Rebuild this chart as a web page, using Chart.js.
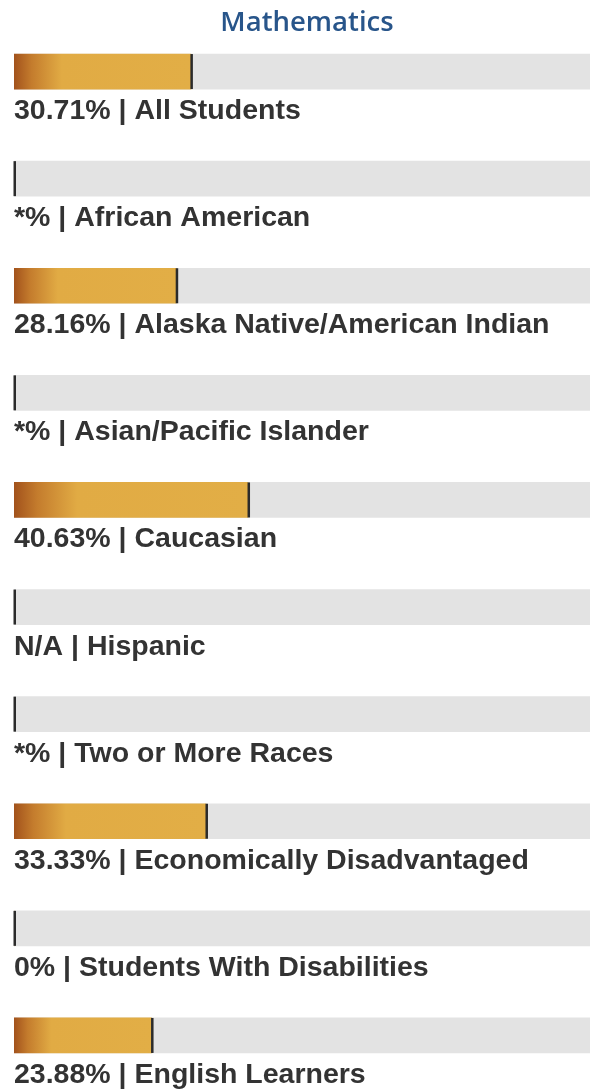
<!DOCTYPE html>
<html>
<head>
<meta charset="utf-8">
<script src="https://cdn.jsdelivr.net/npm/chart.js@4"></script>
<style>
  html, body { margin: 0; padding: 0; background: #fff; }
  #wrap { width: 594px; height: 1092px; position: relative; }
</style>
</head>
<body>
<div id="wrap"><canvas id="mathChart"></canvas></div>
<script>
// data
const chartTitle = 'Mathematics';
const categories = ['All Students', 'African American', 'Alaska Native/American Indian', 'Asian/Pacific Islander',
  'Caucasian', 'Hispanic', 'Two or More Races', 'Economically Disadvantaged', 'Students With Disabilities', 'English Learners'];
const values = [30.71, null, 28.16, null, 40.63, null, null, 33.33, 0, 23.88];
const valueText = ['30.71%', '*%', '28.16%', '*%', '40.63%', 'N/A', '*%', '33.33%', '0%', '23.88%'];
const trackValues = [100, 100, 100, 100, 100, 100, 100, 100, 100, 100];

// gold bar fill, dark at the left edge
function barGradient(context) {
  const chart = context.chart;
  const area = chart.chartArea;
  if (!area) return '#e2ae46';
  const x = chart.scales.x;
  const start = x.getPixelForValue(0);
  const end = x.getPixelForValue(context.raw || 0);
  if (end - start < 1) return '#e2ae46';
  const g = chart.ctx.createLinearGradient(start, 0, end, 0);
  g.addColorStop(0, '#a2521c');
  g.addColorStop(0.1, '#c47c2d');
  g.addColorStop(0.27, '#e1ab44');
  g.addColorStop(1, '#e2ae46');
  return g;
}

// title, end markers and the labels under each bar
const labelPlugin = {
  id: 'labelPlugin',
  afterDatasetsDraw(chart) {
    const ctx = chart.ctx;
    const x = chart.scales.x;
    const meta = chart.getDatasetMeta(0);
    ctx.save();
    meta.data.forEach((bar, i) => {
      const half = bar.height / 2;
      const top = bar.y - half;
      const bottom = bar.y + half;
      const end = x.getPixelForValue(values[i] || 0);
      ctx.fillStyle = '#2b2b2b';
      ctx.fillRect(end - 0.5, top, 2.5, bottom - top);

      ctx.fillStyle = '#333333';
      ctx.font = 'bold 28.5px "Liberation Sans", Arial, sans-serif';
      ctx.textAlign = 'left';
      ctx.textBaseline = 'alphabetic';
      ctx.fillText(valueText[i] + ' | ' + categories[i], x.left, bottom + 30);
    });

    ctx.fillStyle = '#28558a';
    ctx.font = '600 27.5px "Open Sans", "Noto Sans", sans-serif';
    ctx.textAlign = 'center';
    ctx.fillText(chartTitle, 307, 31);
    ctx.restore();
  }
};

const ctx = document.getElementById('mathChart').getContext('2d');
const chart = new Chart(ctx, {
  type: 'bar',
  data: {
    labels: categories,
    datasets: [{
      label: 'Proficient',
      data: values,
      backgroundColor: barGradient,
      borderWidth: 0,
      barThickness: 35
    }, {
      label: 'Track',
      data: trackValues,
      backgroundColor: '#e3e3e3',
      borderWidth: 0,
      barThickness: 35
    }]
  },
  options: {
    indexAxis: 'y',
    responsive: true,
    maintainAspectRatio: false,
    animation: false,
    grouped: false,
    layout: { padding: { left: 14, right: 4, top: 18, bottom: 3 } },
    scales: {
      x: { min: 0, max: 100, display: false },
      y: { display: false }
    },
    plugins: {
      legend: { display: false },
      tooltip: { enabled: false }
    }
  },
  plugins: [labelPlugin]
});
</script>
</body>
</html>
